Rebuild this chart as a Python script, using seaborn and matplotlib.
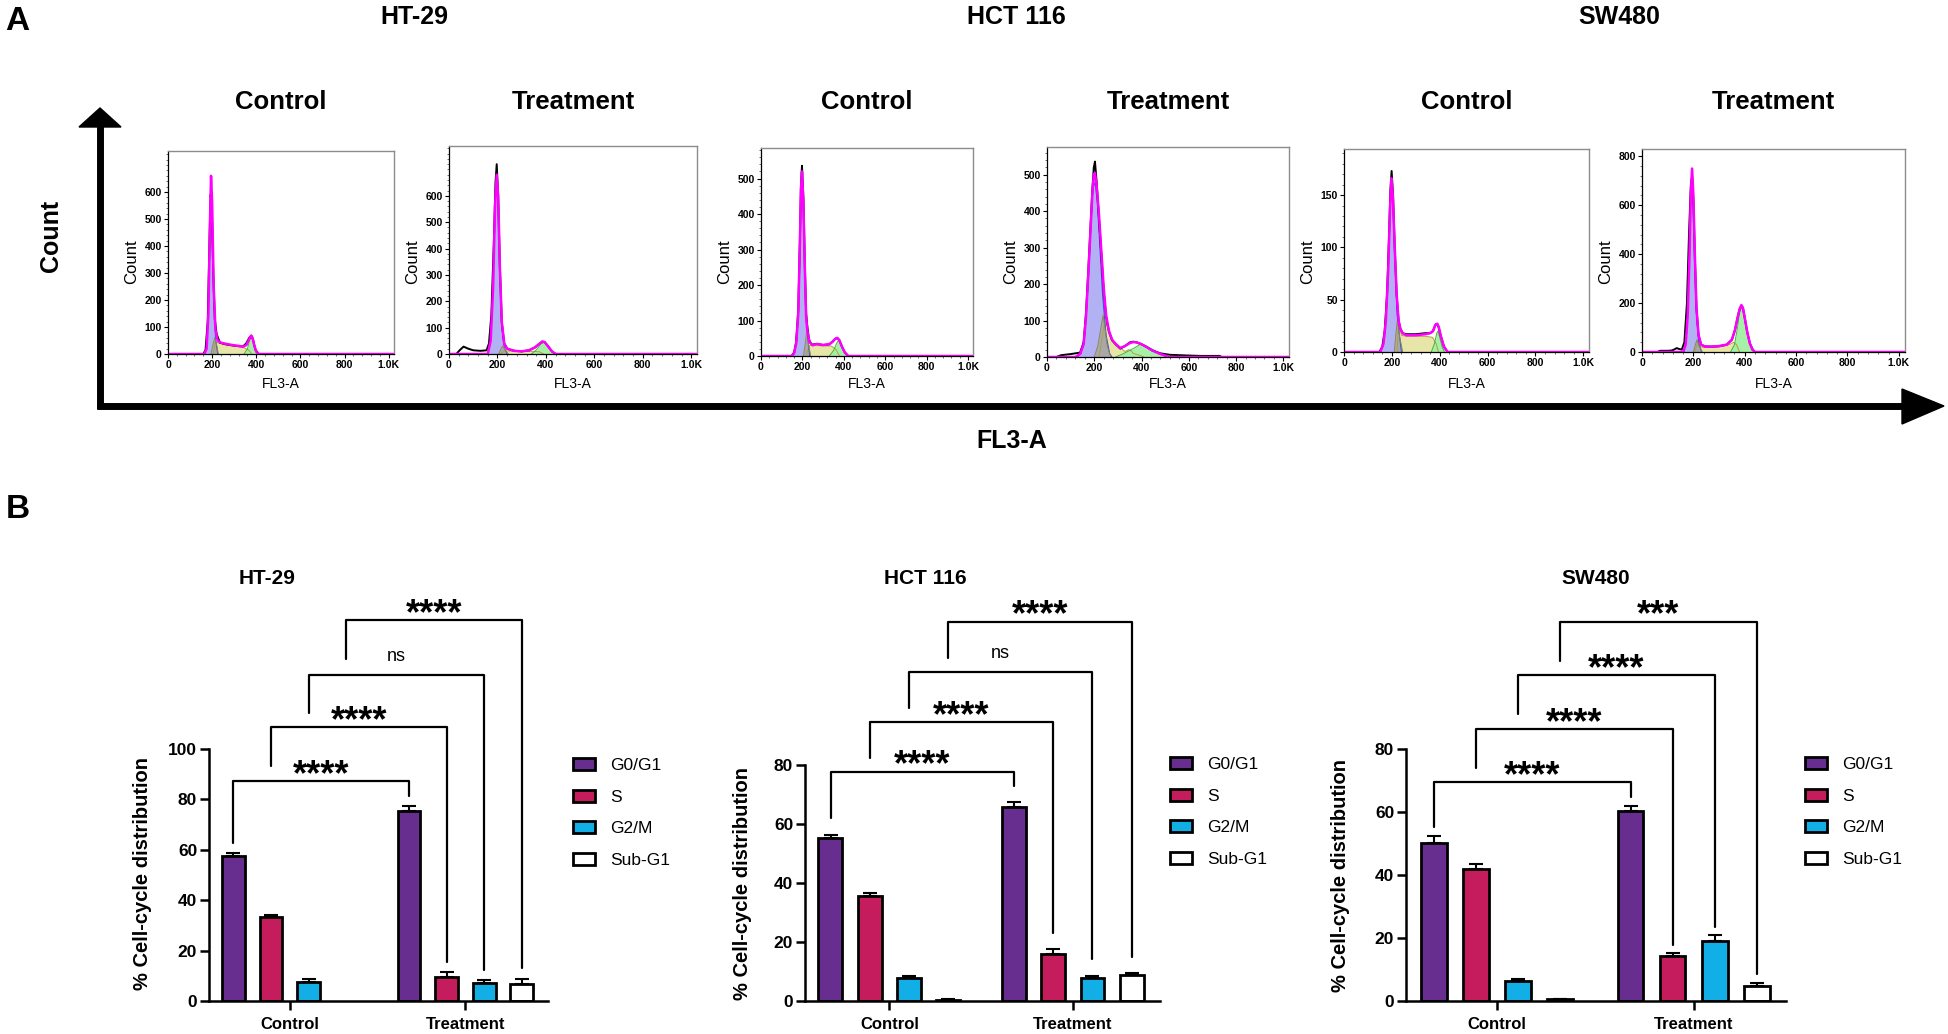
"""Cell-cycle figure: flow cytometry histograms (A) and phase distribution bars (B)."""

import matplotlib

matplotlib.use("Agg")
import matplotlib.pyplot as plt
import numpy as np
import pandas as pd
import seaborn as sns
from matplotlib.patches import Patch, Polygon
from matplotlib.ticker import AutoMinorLocator

sns.set_theme(style="white")
plt.rcParams["font.family"] = ["Liberation Sans", "DejaVu Sans"]
plt.rcParams.update({"text.color": "black", "axes.labelcolor": "black",
                     "xtick.color": "black", "ytick.color": "black"})

W, H = 1948, 1034

# ---------------- data: panel A histograms (FL3-A channel, counts) ----------------
cell_lines = ["HT-29", "HCT 116", "SW480"]
conditions = ["Control", "Treatment"]

ht29_ctrl_raw = [(0, 0), (160, 0), (170, 15), (180, 120), (188, 420), (193, 590), (198, 560), (205, 300),
                 (212, 130), (220, 75), (235, 42), (260, 36), (290, 32), (320, 29), (340, 28), (355, 40),
                 (368, 60), (378, 68), (386, 52), (395, 18), (410, 0), (1024, 0)]
ht29_ctrl_fit = [(0, 0), (165, 0), (175, 20), (183, 150), (190, 480), (195, 660), (200, 560), (207, 250),
                 (215, 90), (225, 50), (240, 42), (260, 38), (280, 35), (300, 32), (320, 30), (340, 27),
                 (355, 33), (368, 55), (376, 68), (382, 62), (390, 35), (400, 8), (412, 0), (1024, 0)]
ht29_ctrl_g1 = [(165, 0), (175, 20), (183, 150), (190, 470), (195, 650), (200, 550), (207, 240), (215, 60), (225, 0)]
ht29_ctrl_debris = [(195, 0), (205, 40), (212, 60), (220, 35), (228, 0)]
ht29_ctrl_s = [(205, 0), (215, 45), (230, 40), (260, 35), (300, 30), (340, 25), (365, 15), (380, 0)]
ht29_ctrl_g2 = [(345, 0), (360, 20), (370, 50), (378, 65), (385, 50), (395, 15), (410, 0)]

ht29_trt_raw = [(0, 0), (30, 0), (45, 15), (60, 28), (80, 20), (100, 14), (130, 12), (155, 14), (165, 40),
                (175, 150), (185, 420), (192, 650), (197, 720), (203, 600), (210, 330), (218, 120), (228, 40),
                (240, 20), (270, 12), (300, 10), (330, 14), (355, 25), (375, 40), (385, 47), (395, 45),
                (410, 28), (425, 10), (440, 0), (1024, 0)]
ht29_trt_fit = [(0, 0), (160, 0), (172, 50), (182, 250), (190, 560), (197, 680), (203, 600), (210, 330),
                (218, 120), (228, 40), (240, 20), (270, 12), (300, 10), (330, 14), (355, 25), (375, 40),
                (385, 47), (395, 45), (410, 28), (425, 10), (440, 0), (1024, 0)]
ht29_trt_g1 = [(160, 0), (172, 50), (182, 250), (190, 560), (197, 680), (203, 600), (210, 320), (218, 100),
               (228, 25), (240, 0)]
ht29_trt_debris = [(205, 0), (215, 20), (222, 30), (230, 18), (245, 0)]
ht29_trt_s = [(210, 0), (230, 12), (270, 10), (310, 9), (350, 10), (375, 8), (390, 0)]
ht29_trt_g2 = [(340, 0), (360, 15), (380, 38), (395, 45), (410, 30), (425, 10), (445, 0)]

hct_ctrl_raw = [(0, 0), (148, 0), (160, 10), (170, 40), (180, 130), (188, 330), (193, 480), (198, 536),
                (205, 440), (212, 250), (218, 120), (224, 82), (232, 45), (245, 32), (270, 34), (300, 31),
                (330, 33), (345, 40), (358, 48), (368, 51), (378, 45), (392, 25), (405, 10), (421, 0), (1024, 0)]
hct_ctrl_fit = [(0, 0), (150, 0), (160, 8), (170, 35), (180, 120), (188, 320), (193, 470), (198, 520),
                (205, 430), (212, 240), (218, 110), (224, 70), (235, 38), (250, 30), (270, 34), (300, 31),
                (330, 33), (345, 40), (358, 48), (368, 51), (378, 45), (392, 25), (405, 10), (421, 0), (1024, 0)]
hct_ctrl_g1 = [(150, 0), (165, 20), (180, 120), (188, 320), (193, 470), (198, 515), (205, 420), (212, 230),
               (220, 80), (235, 0)]
hct_ctrl_debris = [(205, 0), (215, 40), (222, 75), (230, 30), (240, 0)]
hct_ctrl_s = [(215, 0), (235, 30), (260, 30), (300, 28), (340, 28), (360, 20), (380, 0)]
hct_ctrl_g2 = [(330, 0), (350, 15), (365, 35), (375, 45), (390, 30), (405, 10), (420, 0)]

hct_trt_raw = [(0, 0), (40, 0), (60, 5), (100, 8), (140, 12), (155, 40), (165, 120), (175, 240), (185, 370),
               (192, 460), (198, 520), (203, 536), (210, 480), (220, 380), (230, 280), (240, 180), (250, 110),
               (262, 70), (275, 46), (290, 35), (310, 23), (330, 30), (350, 40), (365, 42), (380, 40),
               (400, 35), (420, 28), (445, 18), (480, 10), (520, 6), (560, 5), (600, 4), (650, 3), (700, 3),
               (730, 3), (740, 0), (1024, 0)]
hct_trt_fit = [(0, 0), (120, 0), (140, 8), (155, 35), (165, 110), (175, 230), (185, 360), (192, 450),
               (198, 500), (203, 505), (210, 470), (220, 390), (230, 290), (240, 190), (250, 115), (262, 72),
               (275, 48), (290, 36), (310, 25), (330, 30), (350, 38), (365, 41), (380, 40), (400, 35),
               (420, 28), (445, 18), (480, 8), (520, 0), (1024, 0)]
hct_trt_g1 = [(130, 0), (145, 10), (160, 60), (175, 200), (185, 350), (195, 460), (203, 480), (212, 430),
              (222, 320), (235, 170), (250, 60), (265, 10), (275, 0)]
hct_trt_debris = [(200, 0), (215, 30), (228, 80), (237, 115), (245, 80), (255, 30), (270, 0)]
hct_trt_s = [(220, 0), (235, 60), (245, 100), (260, 75), (280, 45), (300, 30), (330, 15), (345, 20),
             (355, 18), (365, 10), (390, 5), (410, 0)]
hct_trt_g2 = [(290, 0), (320, 8), (350, 18), (370, 25), (390, 33), (400, 35), (420, 30), (450, 20),
              (480, 8), (505, 0)]

sw_ctrl_raw = [(0, 0), (148, 0), (160, 5), (170, 20), (180, 55), (188, 110), (194, 155), (199, 173),
               (205, 150), (212, 100), (220, 55), (228, 30), (236, 22), (245, 18), (260, 17), (300, 17),
               (340, 18), (360, 18), (372, 20), (382, 26), (388, 27), (395, 24), (405, 15), (418, 5),
               (433, 0), (1024, 0)]
sw_ctrl_fit = [(0, 0), (152, 0), (165, 8), (175, 30), (185, 80), (192, 135), (198, 166), (204, 150),
               (212, 100), (220, 55), (228, 30), (236, 22), (245, 18), (260, 16), (300, 16), (340, 17),
               (360, 18), (372, 20), (382, 26), (390, 27), (396, 24), (405, 15), (418, 5), (433, 0), (1024, 0)]
sw_ctrl_g1 = [(155, 0), (170, 15), (182, 70), (192, 135), (198, 163), (204, 148), (212, 95), (222, 35), (240, 0)]
sw_ctrl_debris = [(210, 0), (218, 20), (224, 32), (232, 15), (245, 0)]
sw_ctrl_s = [(222, 0), (228, 32), (240, 16), (260, 15), (300, 15), (340, 15), (370, 14), (385, 8), (395, 0)]
sw_ctrl_g2 = [(365, 0), (378, 8), (388, 18), (393, 20), (400, 14), (410, 5), (420, 0)]

sw_trt_raw = [(0, 0), (60, 0), (70, 5), (100, 5), (115, 6), (125, 10), (135, 16), (145, 12), (155, 10),
              (165, 40), (175, 200), (183, 480), (190, 680), (195, 720), (200, 620), (206, 380), (212, 180),
              (220, 70), (230, 30), (245, 23), (270, 22), (300, 24), (330, 30), (350, 50), (362, 90),
              (372, 140), (380, 175), (387, 190), (393, 180), (400, 140), (410, 80), (420, 35), (430, 10),
              (440, 0), (1024, 0)]
sw_trt_fit = [(0, 0), (160, 0), (170, 30), (178, 150), (185, 400), (190, 640), (195, 750), (200, 640),
              (206, 390), (212, 180), (220, 70), (230, 30), (245, 22), (270, 22), (300, 24), (330, 30),
              (350, 50), (362, 90), (372, 140), (380, 175), (387, 192), (393, 180), (400, 140), (410, 80),
              (420, 35), (430, 10), (440, 0), (1024, 0)]
sw_trt_g1 = [(165, 0), (175, 80), (183, 350), (190, 640), (195, 730), (200, 640), (206, 380), (212, 160),
             (220, 40), (232, 0)]
sw_trt_debris = [(200, 0), (208, 30), (214, 50), (222, 25), (235, 0)]
sw_trt_s = [(205, 0), (215, 35), (230, 20), (260, 18), (300, 20), (340, 30), (358, 40), (368, 30), (380, 0)]
sw_trt_g2 = [(345, 0), (360, 30), (372, 100), (380, 160), (388, 182), (395, 165), (405, 100), (420, 35), (440, 0)]

hist_ymax = [752, 789, 586, 576, 194, 830]
hist_yticks = [[0, 100, 200, 300, 400, 500, 600], [0, 100, 200, 300, 400, 500, 600],
               [0, 100, 200, 300, 400, 500], [0, 100, 200, 300, 400, 500],
               [0, 50, 100, 150], [0, 200, 400, 600, 800]]
fl3_ticks = [0, 200, 400, 600, 800, 1000]
fl3_labels = ["0", "200", "400", "600", "800", "1.0K"]

# ---------------- data: panel B cell-cycle distribution (%) ----------------
phases = ["G0/G1", "S", "G2/M", "Sub-G1"]
phase_colors = ["#682E8F", "#C41C5C", "#12AFE6", "#FFFFFF"]

# no Sub-G1 bar is drawn for HT-29 control
ht29_ctrl = [57.6, 33.2, 7.7, np.nan]
ht29_ctrl_sd = [1.1, 1.0, 1.0, np.nan]
ht29_trt = [75.2, 9.4, 7.3, 6.6]
ht29_trt_sd = [2.2, 2.0, 1.2, 2.3]

hct_ctrl = [55.3, 35.6, 7.7, 0.4]
hct_ctrl_sd = [1.0, 1.0, 0.7, 0.3]
hct_trt = [65.9, 16.1, 7.9, 8.7]
hct_trt_sd = [1.6, 1.4, 0.6, 0.8]

sw_ctrl = [50.3, 41.9, 6.5, 0.5]
sw_ctrl_sd = [2.2, 1.7, 0.6, 0.2]
sw_trt = [60.4, 14.3, 19.2, 4.9]
sw_trt_sd = [1.5, 1.0, 1.6, 0.9]

# bracket: height of bar, where the left/right legs stop, significance label
ht29_levels = [87.2, 108.6, 129.5, 151.0]
ht29_left_ends = [62.6, 93.4, 114.3, 135.8]
ht29_right_ends = [81.5, 15.6, 12.3, 13.0]
ht29_sig = ["****", "****", "ns", "****"]

hct_levels = [77.7, 94.5, 111.5, 128.6]
hct_left_ends = [61.9, 82.4, 99.3, 116.3]
hct_right_ends = [72.8, 23.1, 14.1, 14.9]
hct_sig = ["****", "****", "ns", "****"]

sw_levels = [69.5, 86.3, 103.4, 120.4]
sw_left_ends = [55.3, 74.1, 91.0, 108.0]
sw_right_ends = [64.9, 17.8, 23.4, 8.5]
sw_sig = ["****", "****", "****", "***"]

BAR_STEP = 0.214


def px_rect(l, t, r, b):
    return [l / W, 1 - b / H, (r - l) / W, (b - t) / H]


def ftext(x, y, s, **kw):
    fig.text(x / W, 1 - y / H, s, ha=kw.pop("ha", "center"), va=kw.pop("va", "center"), **kw)


fig = plt.figure(figsize=(W / 100, H / 100), dpi=100)

# ---------------- panel A ----------------
NARROW = ["Liberation Sans Narrow", "Liberation Sans", "DejaVu Sans"]
hist_rects = [(168, 151, 394, 354), (449, 146, 697, 354), (761, 148, 973, 356),
              (1047, 147, 1289, 357), (1344, 149, 1589, 352), (1642, 149, 1905, 352)]
hist_sets = [
    (ht29_ctrl_raw, ht29_ctrl_fit, ht29_ctrl_g1, ht29_ctrl_debris, ht29_ctrl_s, ht29_ctrl_g2),
    (ht29_trt_raw, ht29_trt_fit, ht29_trt_g1, ht29_trt_debris, ht29_trt_s, ht29_trt_g2),
    (hct_ctrl_raw, hct_ctrl_fit, hct_ctrl_g1, hct_ctrl_debris, hct_ctrl_s, hct_ctrl_g2),
    (hct_trt_raw, hct_trt_fit, hct_trt_g1, hct_trt_debris, hct_trt_s, hct_trt_g2),
    (sw_ctrl_raw, sw_ctrl_fit, sw_ctrl_g1, sw_ctrl_debris, sw_ctrl_s, sw_ctrl_g2),
    (sw_trt_raw, sw_trt_fit, sw_trt_g1, sw_trt_debris, sw_trt_s, sw_trt_g2),
]
fills = [("#e6e4a4", "#b0a040", 0.95), ("#a2f0a2", "#3cb43c", 0.95),
         ("#a9a9f2", "#3a46e0", 0.9), ("#a8a8a8", "#8a8a50", 0.95)]

for k, (rect, curves) in enumerate(zip(hist_rects, hist_sets)):
    raw, fit, g1, debris, s_phase, g2 = curves
    ax = fig.add_axes(px_rect(*rect))
    for pts, (face, edge, alpha) in zip([s_phase, g2, g1, debris], fills):
        xs, ys = zip(*pts)
        ax.fill_between(xs, ys, color=face, alpha=alpha, lw=0)
        ax.plot(xs, ys, color=edge, lw=0.7)
    rx, ry = zip(*raw)
    sns.lineplot(x=list(rx), y=list(ry), ax=ax, color="black", lw=1.4, estimator=None, sort=False)
    mx, my = zip(*fit)
    sns.lineplot(x=list(mx), y=list(my), ax=ax, color="#ff00ff", lw=1.8, estimator=None, sort=False)
    ax.set_xlim(0, 1024)
    ax.set_ylim(0, hist_ymax[k])
    ax.set_xticks(fl3_ticks, fl3_labels, fontsize=7.5, fontweight="bold", fontfamily=NARROW)
    ax.set_yticks(hist_yticks[k], [str(v) for v in hist_yticks[k]], fontsize=7.5, fontweight="bold",
                  fontfamily=NARROW)
    ax.xaxis.set_minor_locator(AutoMinorLocator(5))
    ax.yaxis.set_minor_locator(AutoMinorLocator(5))
    ax.tick_params(which="major", direction="out", length=3, width=0.8, pad=1.5, colors="black",
                   bottom=True, left=True)
    ax.tick_params(which="minor", direction="out", length=1.6, width=0.6, bottom=True, left=True,
                   color="#555555")
    for side in ["top", "right"]:
        ax.spines[side].set_color("#8c8c8c")
        ax.spines[side].set_linewidth(1.0)
    for side in ["left", "bottom"]:
        ax.spines[side].set_color("black")
        ax.spines[side].set_linewidth(0.9)
    ax.set_xlabel("")
    ax.set_ylabel("")
    left, top, right, bottom = rect
    ftext(left - 36, 262, "Count", rotation=90, fontsize=12)
    ftext((left + right) / 2, 384, "FL3-A", fontsize=10)
    ftext((left + right) / 2, 102, conditions[k % 2], fontsize=18.5, fontweight="bold")

for name, x in zip(cell_lines, [414, 1016, 1619]):
    ftext(x, 17, name, fontsize=18, fontweight="bold")

ftext(17, 22, "A", fontsize=24, fontweight="bold")
ftext(18, 510, "B", fontsize=24, fontweight="bold")
ftext(51, 236, "Count", rotation=90, fontsize=18, fontweight="bold")
ftext(1012, 441, "FL3-A", fontsize=18, fontweight="bold")

# big axis arrows (decoration in pixel space)
over = fig.add_axes([0, 0, 1, 1], zorder=-1)
over.set_xlim(0, W)
over.set_ylim(H, 0)
over.axis("off")
over.plot([100, 100], [409, 122], color="black", lw=5, solid_capstyle="butt")
over.plot([97, 1905], [406, 406], color="black", lw=5, solid_capstyle="butt")
over.add_patch(Polygon([(100, 108), (79, 127), (121, 127)], closed=True, color="black"))
over.add_patch(Polygon([(1944, 406), (1902, 389), (1902, 424)], closed=True, color="black"))

# ---------------- panel B ----------------
bar_panels = [
    dict(rect=(209, 749, 548, 1001), xlim=(-0.46, 1.47), ymax=100, yticks=[0, 20, 40, 60, 80, 100],
         ctrl=ht29_ctrl, ctrl_sd=ht29_ctrl_sd, trt=ht29_trt, trt_sd=ht29_trt_sd, levels=ht29_levels,
         left=ht29_left_ends, right=ht29_right_ends, sig=ht29_sig, title=(267, 578), ylab=(142, 874),
         leg=(573, 758)),
    dict(rect=(805, 765, 1160, 1001), xlim=(-0.46, 1.475), ymax=80, yticks=[0, 20, 40, 60, 80],
         ctrl=hct_ctrl, ctrl_sd=hct_ctrl_sd, trt=hct_trt, trt_sd=hct_trt_sd, levels=hct_levels,
         left=hct_left_ends, right=hct_right_ends, sig=hct_sig, title=(925, 578), ylab=(743, 883),
         leg=(1170, 757)),
    dict(rect=(1406, 749, 1786, 1001), xlim=(-0.464, 1.47), ymax=80, yticks=[0, 20, 40, 60, 80],
         ctrl=sw_ctrl, ctrl_sd=sw_ctrl_sd, trt=sw_trt, trt_sd=sw_trt_sd, levels=sw_levels,
         left=sw_left_ends, right=sw_right_ends, sig=sw_sig, title=(1596, 578), ylab=(1341, 875),
         leg=(1805, 757)),
]

for name, p in zip(cell_lines, bar_panels):
    ax = fig.add_axes(px_rect(*p["rect"]))
    df = pd.DataFrame({"group": np.repeat(conditions, 4), "phase": phases * 2, "value": p["ctrl"] + p["trt"]})
    sns.barplot(data=df, x="group", y="value", hue="phase", order=conditions, hue_order=phases,
                palette=dict(zip(phases, phase_colors)), saturation=1, width=0.857, gap=0.39,
                edgecolor="black", linewidth=2.0, errorbar=None, legend=False, ax=ax)
    xs = [g + (i - 1.5) * BAR_STEP for g in (0, 1) for i in range(4)]
    ax.errorbar(xs, p["ctrl"] + p["trt"], yerr=[np.zeros(8), p["ctrl_sd"] + p["trt_sd"]], fmt="none",
                ecolor="black", elinewidth=1.5, capsize=5, capthick=1.5)
    ax.set_xlim(*p["xlim"])
    ax.set_ylim(0, p["ymax"])
    ax.set_yticks(p["yticks"])
    ax.set_xlabel("")
    ax.set_ylabel("")
    sns.despine(ax=ax)
    for side in ["left", "bottom"]:
        ax.spines[side].set_linewidth(1.8)
        ax.spines[side].set_color("black")
    ax.tick_params(axis="both", direction="out", length=6.5, width=1.8, color="black", bottom=True, left=True)
    ax.tick_params(axis="y", labelsize=12.5, pad=2)
    ax.tick_params(axis="x", labelsize=12, pad=5)
    for lbl in ax.get_xticklabels() + ax.get_yticklabels():
        lbl.set_fontweight("bold")

    for i, (lvl, le, rt, sig) in enumerate(zip(p["levels"], p["left"], p["right"], p["sig"])):
        x1 = (i - 1.5) * BAR_STEP
        x2 = 1 + (i - 1.5) * BAR_STEP
        ax.plot([x1, x1, x2, x2], [le, lvl, lvl, rt], color="black", lw=1.6, clip_on=False)
        if sig == "ns":
            ax.annotate(sig, ((x1 + x2) / 2, lvl), xytext=(0, 10), textcoords="offset points",
                        ha="center", va="baseline", fontsize=13, annotation_clip=False)
        else:
            ax.annotate(sig, ((x1 + x2) / 2, lvl), xytext=(0, -2.6), textcoords="offset points",
                        ha="center", va="baseline", fontsize=26, fontweight="bold", annotation_clip=False)

    tx, ty = p["title"]
    ftext(tx, ty, name, fontsize=15, fontweight="bold")
    lx, ly = p["ylab"]
    ftext(lx, ly, "% Cell-cycle distribution", rotation=90, fontsize=14.5, fontweight="bold")

    handles = [Patch(facecolor=c, edgecolor="black", linewidth=2.0) for c in phase_colors]
    gx, gy = p["leg"]
    fig.legend(handles, phases, loc="upper left", bbox_to_anchor=(gx / W, 1 - gy / H), frameon=False,
               fontsize=12.5, borderpad=0, borderaxespad=0, handlelength=1.26, handleheight=0.7,
               handletextpad=0.9, labelspacing=0.95)

fig.savefig("out.png", dpi=100)
